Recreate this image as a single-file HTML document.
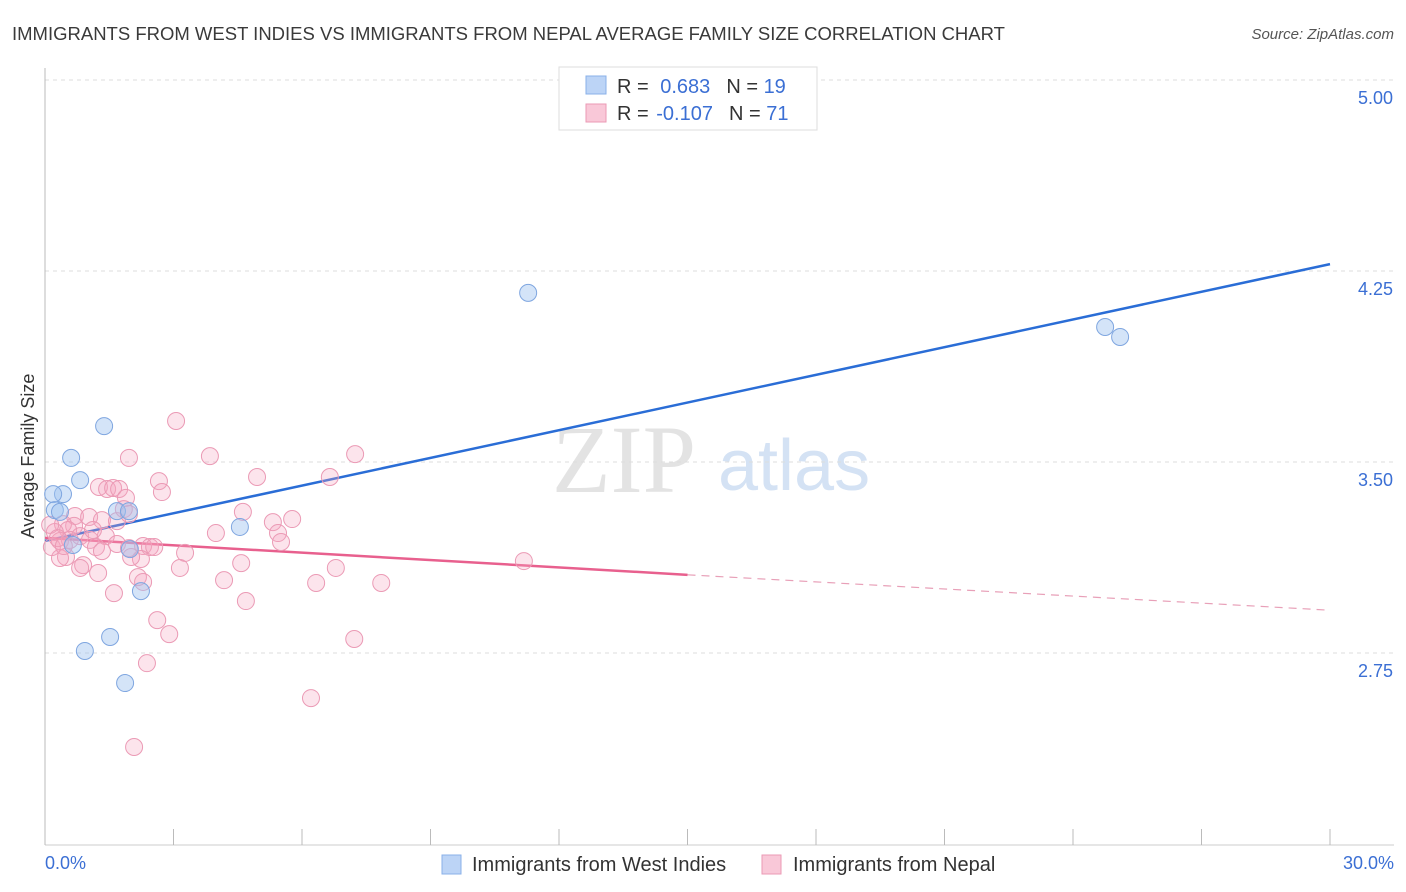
<!DOCTYPE html>
<html><head><meta charset="utf-8"><style>
body{margin:0;background:#fff;font-family:"Liberation Sans",sans-serif;}
svg{display:block}
</style></head><body>
<svg width="1406" height="892">
<text x="12" y="40" font-size="18.5" fill="#3a3a3a">IMMIGRANTS FROM WEST INDIES VS IMMIGRANTS FROM NEPAL AVERAGE FAMILY SIZE CORRELATION CHART</text>
<text x="1394" y="39" font-size="15" fill="#555" font-style="italic" text-anchor="end">Source: ZipAtlas.com</text>
<g>
<text x="552" y="492" font-size="96" font-family="Liberation Serif,serif" fill="#e3e3e3">ZIP</text>
<text x="718" y="490" font-size="72" fill="#d4e2f4">atlas</text>
</g>
<g id="grid"></g>
<g id="axes"></g>
<g id="lines"></g>
<g id="pts"></g>
<text transform="translate(34,456) rotate(-90)" font-size="18" fill="#333" text-anchor="middle">Average Family Size</text>
<text x="45" y="869" font-size="18" fill="#3b6fd4">0.0%</text>
<text x="1394" y="869" font-size="18" fill="#3b6fd4" text-anchor="end">30.0%</text>
<g>
<rect x="559" y="67" width="258" height="63" fill="#fff" stroke="#ddd"/>
<rect x="586" y="76" width="20" height="18" fill="#bcd4f6" stroke="#8ab0e8"/>
<rect x="586" y="104" width="20" height="18" fill="#f9c8d8" stroke="#eb9ab5"/>
<text x="617" y="93" font-size="20" fill="#333">R = <tspan fill="#3b6fd4" dx="6">0.683</tspan><tspan dx="16" fill="#333">N = </tspan><tspan fill="#3b6fd4">19</tspan></text>
<text x="617" y="120" font-size="20" fill="#333">R = <tspan fill="#3b6fd4" dx="2">-0.107</tspan><tspan dx="16" fill="#333">N = </tspan><tspan fill="#3b6fd4">71</tspan></text>
</g>
<g>
<rect x="442" y="855" width="19" height="19" fill="#bcd4f6" stroke="#8ab0e8"/>
<text x="472" y="871" font-size="20" fill="#333">Immigrants from West Indies</text>
<rect x="762" y="855" width="19" height="19" fill="#f9c8d8" stroke="#eb9ab5"/>
<text x="793" y="871" font-size="20" fill="#333">Immigrants from Nepal</text>
</g>
</svg>
<script>
const yTicks=[5.00,4.25,3.50,2.75];
const xTicks=[0,3,6,9,12,15,18,21,24,27,30];
const blueX=[0.61,1.38,0.82,0.42,0.19,0.23,0.35,1.68,1.96,0.65,1.98,4.55,2.24,1.52,0.93,1.87,11.28,24.75,25.10];
const blueY=[3.516,3.641,3.429,3.374,3.374,3.311,3.304,3.307,3.307,3.174,3.158,3.245,2.993,2.813,2.758,2.632,4.164,4.030,3.991];
const pinkX=[3.06,1.96,3.85,7.24,4.95,6.65,2.66,2.73,1.26,1.45,1.59,1.73,1.89,0.70,1.03,1.33,1.68,1.84,1.96,0.68,0.42,0.54,0.23,0.35,0.58,0.82,1.05,1.19,1.42,1.68,1.96,1.33,3.99,4.62,5.32,5.44,5.77,5.51,2.29,2.45,2.55,3.27,2.24,2.01,0.89,0.82,1.24,0.49,0.35,0.16,3.15,4.58,6.79,11.18,2.17,2.29,4.18,6.33,7.85,1.61,4.69,2.62,2.90,7.22,2.38,6.21,2.08,0.12,0.30,1.12,0.44];
const pinkY=[3.661,3.516,3.523,3.531,3.441,3.441,3.425,3.382,3.402,3.394,3.398,3.394,3.359,3.288,3.284,3.272,3.268,3.315,3.296,3.249,3.256,3.233,3.225,3.190,3.194,3.209,3.194,3.166,3.209,3.178,3.162,3.150,3.221,3.304,3.264,3.221,3.276,3.186,3.170,3.166,3.166,3.143,3.119,3.127,3.095,3.084,3.064,3.127,3.123,3.166,3.084,3.103,3.084,3.111,3.048,3.029,3.036,3.025,3.025,2.985,2.954,2.879,2.824,2.805,2.710,2.573,2.381,3.253,3.201,3.233,3.170];
const blueTrend=[3.190,4.277];
const pinkTrend=[3.202,3.057,2.918];
const NS='http://www.w3.org/2000/svg';
const sx=v=>45+v*(1285/30);
const sy=v=>80+(5-v)*(191/0.75);
function mk(tag,attrs,parent){const e=document.createElementNS(NS,tag);for(const k in attrs)e.setAttribute(k,attrs[k]);parent.appendChild(e);return e;}
const grid=document.getElementById('grid'),axes=document.getElementById('axes'),lines=document.getElementById('lines'),pts=document.getElementById('pts');
yTicks.forEach(t=>{
 const l=mk('line',{x1:45,x2:1394,y1:sy(t),y2:sy(t),stroke:'#ddd','stroke-dasharray':'4,4'},grid);
 
 
 const tx=mk('text',{x:1393,y:sy(t)+24,'font-size':18,fill:'#3b6fd4','text-anchor':'end','font-family':'Liberation Sans,sans-serif'},grid);
 tx.textContent=t.toFixed(2);
 
 
});
mk('line',{x1:45,x2:45,y1:68,y2:845,stroke:'#bbb'},axes);
mk('line',{x1:45,x2:1394,y1:845,y2:845,stroke:'#ccc'},axes);
xTicks.forEach(t=>{
 const l=mk('line',{x1:sx(t),x2:sx(t),y1:829,y2:845,stroke:'#bbb'},axes);
 
 
});
let bl=mk('line',{x1:sx(0),y1:sy(blueTrend[0]),x2:sx(30),y2:sy(blueTrend[1]),stroke:'#2a6dd6','stroke-width':2.5},lines);


let pl=mk('line',{x1:sx(0),y1:sy(pinkTrend[0]),x2:sx(15),y2:sy(pinkTrend[1]),stroke:'#e8608e','stroke-width':2.5},lines);


let pd=mk('line',{x1:sx(15),y1:sy(pinkTrend[1]),x2:sx(30),y2:sy(pinkTrend[2]),stroke:'#e8a0b8','stroke-width':1.2,'stroke-dasharray':'8,6'},lines);


pinkX.forEach((x,i)=>{
 const c=mk('circle',{cx:sx(x),cy:sy(pinkY[i]),r:8.5,fill:'rgba(245,165,192,0.3)',stroke:'#eb9ab5','stroke-width':1},pts);
 
 
});
blueX.forEach((x,i)=>{
 const c=mk('circle',{cx:sx(x),cy:sy(blueY[i]),r:8.5,fill:'rgba(160,195,240,0.45)',stroke:'#7fa6e0','stroke-width':1},pts);
 
 
});
</script>
</body></html>
